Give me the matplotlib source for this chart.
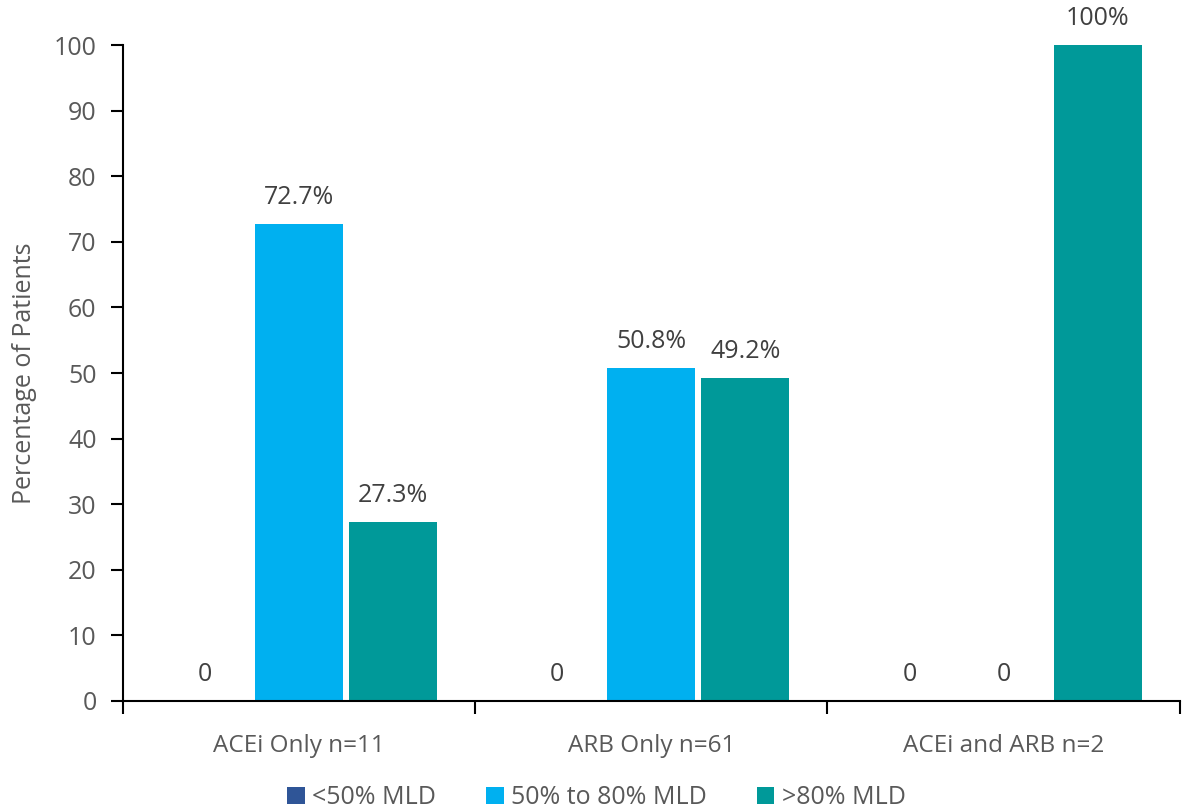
import numpy as np
import matplotlib.pyplot as plt
from matplotlib.patches import Patch

plt.rcParams['font.family'] = ['Open Sans', 'DejaVu Sans']

categories = ["ACEi Only n=11", "ARB Only n=61", "ACEi and ARB n=2"]
series = ["<50% MLD", "50% to 80% MLD", ">80% MLD"]
lt50 = [0, 0, 0]
mid = [72.7, 50.8, 0]
gt80 = [27.3, 49.2, 100]
labels_lt50 = ["0", "0", "0"]
labels_mid = ["72.7%", "50.8%", "0"]
labels_gt80 = ["27.3%", "49.2%", "100%"]
colors = ["#2F5597", "#00B0F0", "#009999"]
grey = "#595959"

fig = plt.figure(figsize=(11.88, 8.10), dpi=100)
ax = fig.add_axes([0.1035, 0.1346, 0.8895, 0.8098])

x = np.arange(len(categories))
w = 0.25
step = 0.267
data = [lt50, mid, gt80]
labs = [labels_lt50, labels_mid, labels_gt80]
for i, (vals, lab, c) in enumerate(zip(data, labs, colors)):
    pos = x + (i - 1) * step
    bars = ax.bar(pos, vals, width=w, color=c)
    for b, v, t in zip(bars, vals, lab):
        ax.text(b.get_x() + b.get_width() / 2, v + 2.1, t, ha='center', va='bottom',
                fontsize=18, color="#404040")

ax.set_xlim(-0.5, 2.5)
ax.set_ylim(0, 100)
ax.set_yticks(range(0, 101, 10))
ax.set_xticks([-0.5, 0.5, 1.5, 2.5])
ax.set_xticklabels([])
ax.set_xticks(x, minor=True)
ax.set_xticklabels(categories, minor=True)
ax.tick_params(axis='x', which='major', length=9, width=1.5, direction='out')
ax.tick_params(axis='x', which='minor', length=0, pad=24, labelsize=17.5, labelcolor=grey)
ax.tick_params(axis='y', length=9, width=1.5, direction='out', labelsize=18, labelcolor=grey, pad=10)
for s in ['top', 'right']:
    ax.spines[s].set_visible(False)
for s in ['left', 'bottom']:
    ax.spines[s].set_linewidth(1.5)
ax.set_ylabel("Percentage of Patients", fontsize=18, color=grey, labelpad=12)

handles = [Patch(facecolor=c, label=s) for c, s in zip(colors, series)]
fig.legend(handles=handles, loc='lower center', bbox_to_anchor=(0.502, -0.028), ncol=3,
           frameon=False, fontsize=18, labelcolor=grey, handlelength=0.7, handleheight=0.7,
           handletextpad=0.3, columnspacing=2.0)

fig.savefig("out.png", dpi=100)
